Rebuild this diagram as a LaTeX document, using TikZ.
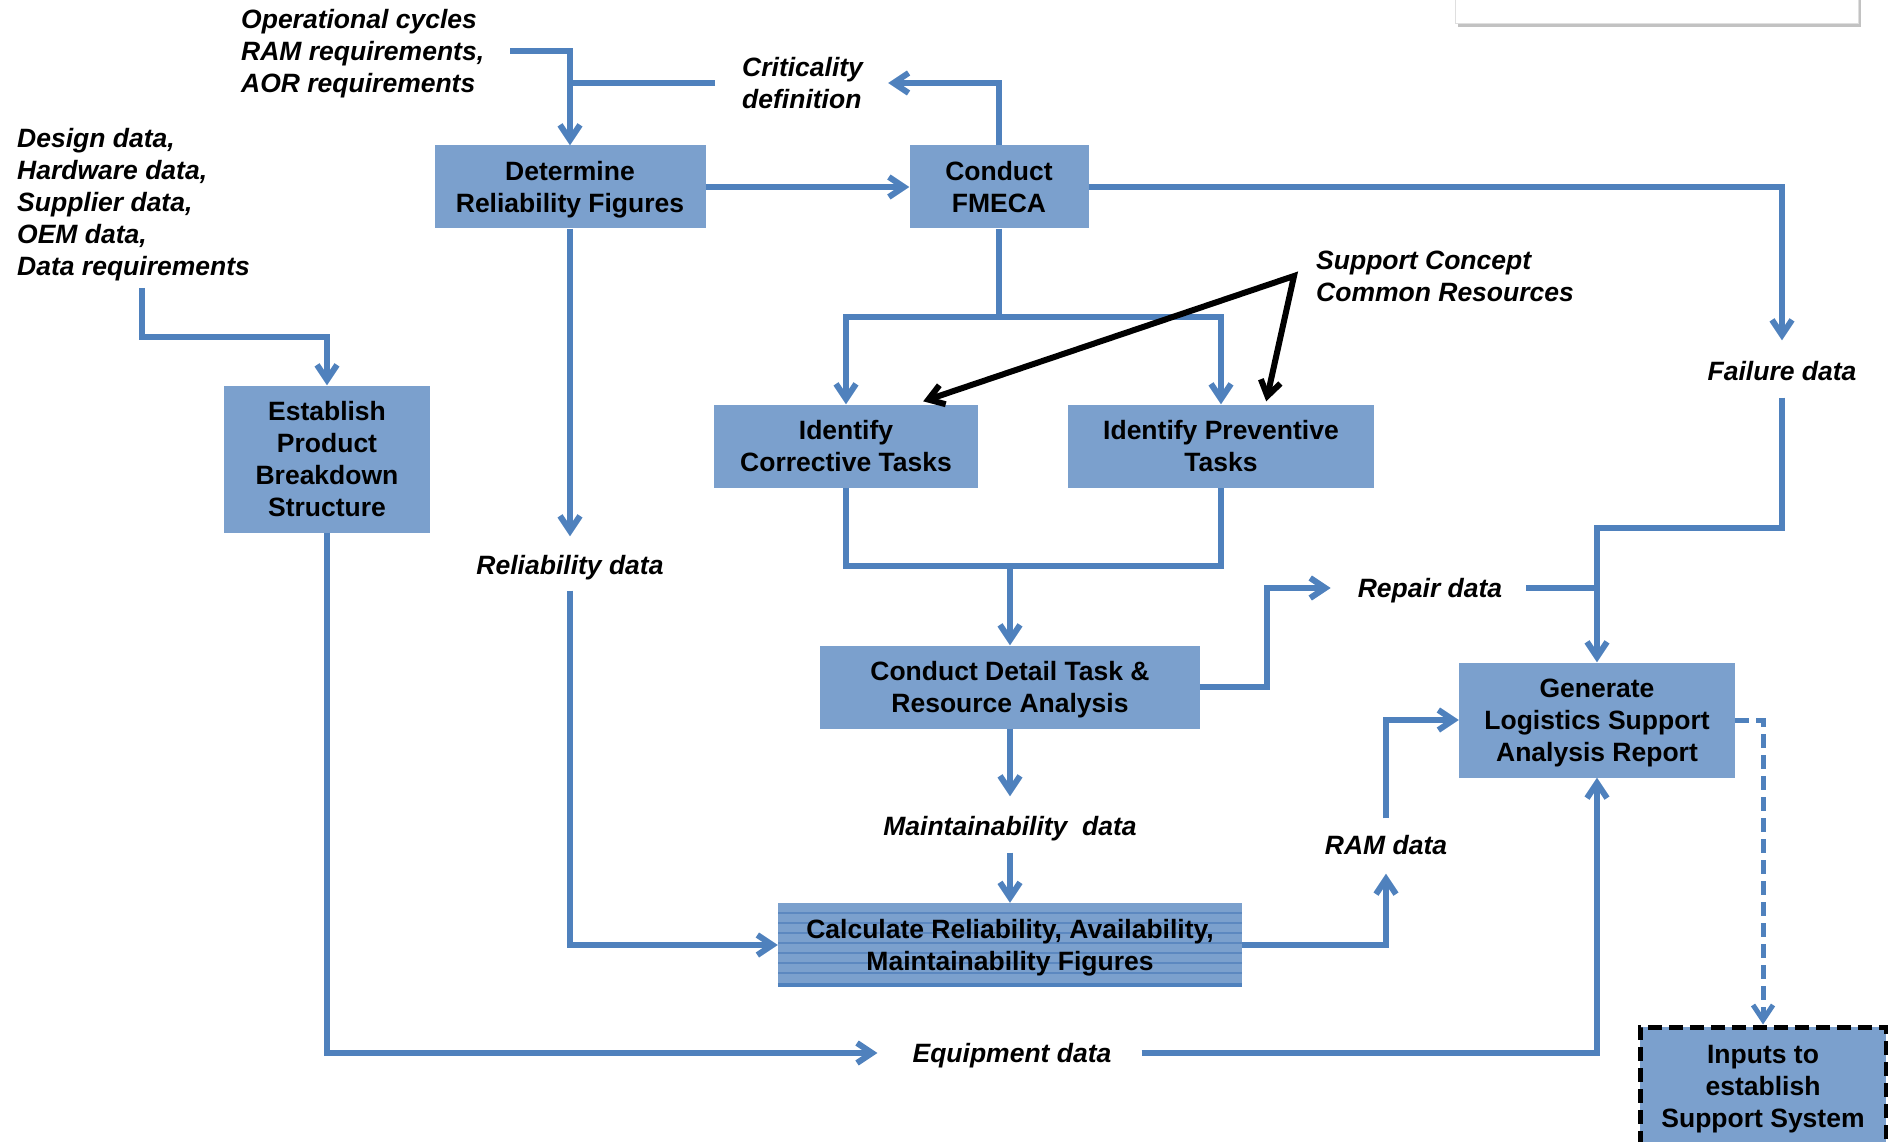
\documentclass[tikz,border=0pt]{standalone}
\usepackage{fontspec}
\setmainfont{Liberation Sans}
\usepackage{tikz}
\usetikzlibrary{arrows.meta}
\usetikzlibrary{calc,shadows}
\usepackage{xcolor}
\definecolor{boxblue}{RGB}{123,160,205}
\definecolor{lineblue}{RGB}{79,129,189}
\definecolor{stripeblue}{RGB}{92,136,192}
\tikzset{
  every node/.style={font=\rmfamily}
}

\begin{document}
\begin{tikzpicture}[x=1pt,y=-1pt]
  \tikzset{
    task/.style={
      fill=boxblue,
      align=center,
      inner sep=0pt,
      text depth=0pt,
      font=\bfseries\fontsize{26.5}{32}\selectfont
    },
    datalbl/.style={
      inner sep=0pt,
      text height=22pt,
      text depth=3pt,
      font=\bfseries\itshape\fontsize{26.5}{32}\selectfont
    },
    inlbl/.style={
      inner sep=0pt,
      align=left,
      anchor=west,
      text depth=0pt,
      font=\bfseries\itshape\fontsize{26.5}{32}\selectfont
    },
    link/.style={
      draw=lineblue,
      line width=6pt
    },
    flow/.style={
      link,
      -{Straight Barb[length=15pt,width=20pt]}
    },
    sflow/.style={
      draw=black,
      line width=6pt,
      {Straight Barb[length=15pt,width=20pt]}-{Straight Barb[length=15pt,width=20pt]}
    }
  }
  \clip (0,0) rectangle (1888,1142);

  % Leftover callout, top right
  \draw[draw=gray!25, fill=white,
        drop shadow={shadow xshift=3pt, shadow yshift=-4pt, fill=gray!80, opacity=0.6}]
    (1455,-60) rectangle (1858,23);

  % Process boxes
  \node[task, minimum width=271pt, minimum height=83pt] (detrel) at (570,187) {Determine\\Reliability Figures};
  \node[task, minimum width=179pt, minimum height=83pt] (fmeca) at (999,187) {Conduct\\FMECA};
  \node[task, minimum width=206pt, minimum height=147pt] (pbs) at (327,459) {Establish\\Product\\Breakdown\\Structure};
  \node[task, minimum width=264pt, minimum height=83pt] (corr) at (846,446) {Identify\\Corrective Tasks};
  \node[task, minimum width=306pt, minimum height=83pt] (prev) at (1221,446) {Identify Preventive\\Tasks};
  \node[task, minimum width=380pt, minimum height=83pt] (detail) at (1010,687) {Conduct Detail Task \&\\Resource Analysis};
  \node[task, minimum width=464pt, minimum height=84pt,
        path picture={
          \foreach \k in {1,...,7}
            \draw[stripeblue, line width=1.3pt]
              ([yshift=-10*\k pt]path picture bounding box.north west) --
              ([yshift=-10*\k pt]path picture bounding box.north east);
        }] (calc) at (1010,945) {Calculate Reliability, Availability,\\Maintainability Figures};
  \draw[lineblue, line width=4pt] ([yshift=2pt]calc.south west) -- ([yshift=2pt]calc.south east);
  \node[task, minimum width=276pt, minimum height=115pt] (gen) at (1597,720) {Generate\\Logistics Support\\Analysis Report};
  \node[task, draw=black, line width=5pt, dash pattern=on 14pt off 7pt,
        minimum width=246pt, minimum height=118pt] (inputs) at (1763,1086) {Inputs to\\establish\\Support System};

  % Inputs and data labels
  \node[inlbl] (opcyc) at (241,51) {Operational cycles\\RAM requirements,\\AOR requirements};
  \node[inlbl] (crit) at (742,83) {Criticality\\definition};
  \node[inlbl] (design) at (17,202) {Design data,\\Hardware data,\\Supplier data,\\OEM data,\\Data requirements};
  \node[inlbl] (support) at (1316,276) {Support Concept\\Common Resources};
  \node[datalbl] (faildata) at (1782,371) {Failure data};
  \node[datalbl] (reldata) at (570,565) {Reliability data};
  \node[datalbl] (repdata) at (1430,588) {Repair data};
  \node[datalbl] (maintdata) at (1010,826) {Maintainability\ \ data};
  \node[datalbl] (ramdata) at (1386,845) {RAM data};
  \node[datalbl] (equip) at (1012,1053) {Equipment data};

  % Top row
  \draw[flow] ([xshift=26pt]opcyc.east) -| (detrel.north);
  \draw[link] ([xshift=-27pt]crit.west) -- (crit.west -| detrel.north);
  \draw[flow] (fmeca.north) |- ([xshift=25pt]crit.east);
  \draw[flow] (detrel) -- (fmeca);
  \draw[flow] ([xshift=8pt,yshift=-12pt]design.south) -- ++(0,49) -| (pbs.north);
  \draw[flow] (fmeca.east) -| ([yshift=18pt]faildata.north);

  % FMECA to task identification
  \coordinate (fj) at (999,317);
  \draw[link] (fmeca.south) -- (fj);
  \draw[flow] (fj) -| (corr.north);
  \draw[flow] (fj) -| (prev.north);
  \coordinate (sc) at ([xshift=-22pt]support.west);
  \draw[sflow] ([xshift=-55pt,yshift=3pt]corr.north east) -- (sc) -- ([xshift=-108pt,yshift=3pt]prev.north east);

  % Task analysis
  \coordinate (tj) at (1010,566);
  \draw[link] (corr.south) |- (tj) -| (prev.south);
  \draw[flow] (tj) -- (detail.north);
  \draw[flow] (detail.east) -- ++(67,0) |- ([xshift=-27pt]repdata.west);
  \draw[link] ([xshift=24pt]repdata.east) -- (repdata.east -| gen.north);
  \draw[flow] ([yshift=-14pt]faildata.south) -- ++(0,130) -| (gen.north);
  \draw[flow] (detail.south) -- ([yshift=17pt]maintdata.north);
  \draw[flow] ([yshift=-14pt]maintdata.south) -- (calc.north);

  % Reliability branch
  \draw[flow] (detrel.south) -- ([yshift=16pt]reldata.north);
  \draw[flow] ([yshift=-13pt]reldata.south) |- (calc.west);
  \draw[flow] (calc.east) -| ([yshift=-16pt]ramdata.south);
  \draw[flow] ([yshift=14pt]ramdata.north) |- (gen.west);

  % Equipment data and report
  \draw[flow] (pbs.south) |- ([xshift=-35pt]equip.west);
  \draw[flow] ([xshift=30pt]equip.east) -| (gen.south);
  \draw[flow, line width=5pt, dash pattern=on 14pt off 7pt] (gen.east) -| (inputs.north);
\end{tikzpicture}
\end{document}
